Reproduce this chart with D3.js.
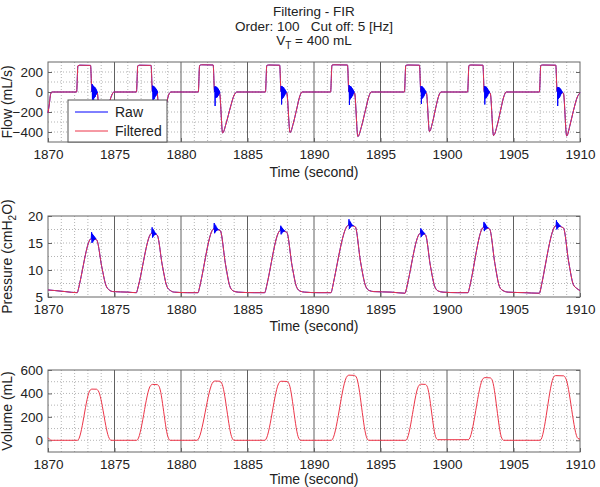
<!DOCTYPE html>
<html lang="en">
<head>
<meta charset="UTF-8">
<title>Filtering - FIR</title>
<script src="https://cdn.jsdelivr.net/npm/d3@7"></script>
<style>
  body { margin: 0; background: #fff; }
  svg { font-family: "Liberation Sans", Arial, Helvetica, sans-serif; }
  path.raw { stroke: #0000ff; stroke-width: 1px; fill: none; }
  path.filtered { stroke: #ec3548; stroke-width: 1px; fill: none; }
  line.minor { stroke: #b4b4b4; stroke-dasharray: 1,2; }
  line.major { stroke: #606060; }
  .axis text { font-size: 13.5px; fill: #222; }
  .axis line { stroke: #666; }
</style>
</head>
<body>
<svg width="600" height="487"></svg>
<script>
// ---- data ----
const timeDomain = [1870, 1910];
const timeTicks = [1870, 1875, 1880, 1885, 1890, 1895, 1900, 1905, 1910];

const flowTicks = [-400, -200, 0, 200];
const pressureTicks = [5, 10, 15, 20];
const volumeTicks = [0, 200, 400, 600];

// filtered flow [time, mL/s]
const flowFiltered = [
  [1870.0,-210],[1870.1,-120],[1870.2,-20],[1870.3,0],
  [1872.15,0],[1872.25,262],[1872.4,268],[1873.2,266],[1873.3,5],[1873.7,-5],[1873.93,-400],[1874.2,-300],[1874.5,-160],[1874.8,-30],[1874.95,0],
  [1876.65,0],[1876.75,262],[1876.9,268],[1877.75,266],[1877.85,5],[1878.2,-5],[1878.42,-390],[1878.65,-280],[1878.9,-120],[1879.1,-20],[1879.25,0],
  [1881.3,0],[1881.4,265],[1881.55,272],[1882.42,270],[1882.52,5],[1882.9,-10],[1883.13,-410],[1883.4,-310],[1883.7,-160],[1884.0,-30],[1884.2,0],
  [1886.35,0],[1886.45,265],[1886.6,270],[1887.42,268],[1887.52,5],[1887.95,-10],[1888.2,-405],[1888.45,-310],[1888.7,-170],[1888.95,-35],[1889.1,0],
  [1891.25,0],[1891.35,268],[1891.5,272],[1892.52,270],[1892.62,5],[1893.05,-10],[1893.3,-445],[1893.58,-340],[1893.88,-175],[1894.15,-35],[1894.3,0],
  [1896.8,0],[1896.9,265],[1897.05,270],[1897.93,268],[1898.03,5],[1898.45,-10],[1898.68,-395],[1898.92,-300],[1899.15,-160],[1899.4,-30],[1899.55,0],
  [1901.55,0],[1901.65,265],[1901.8,270],[1902.7,268],[1902.8,5],[1903.25,-10],[1903.5,-435],[1903.78,-330],[1904.05,-170],[1904.3,-35],[1904.45,0],
  [1906.95,0],[1907.05,265],[1907.2,270],[1908.18,268],[1908.28,5],[1908.75,-10],[1909.0,-440],[1909.25,-330],[1909.5,-190],[1909.8,-50],[1910.0,-8]
];

// raw flow oscillation bursts after each inspiration (samples every burstStep s)
const burstStep = 0.022;
const flowBurstStart = [1873.3, 1877.85, 1882.52, 1887.52, 1892.62, 1898.03, 1902.8, 1908.28];
const flowBurstValues = [
  [0,80,-120,70,-100,60,-80,55,-60,50,-50,45,-45,35,-30,25,-20,12,-8,0],
  [0,65,-110,60,-90,55,-70,50,-55,45,-45,40,-40,30,-25,20,-15,10,-5,0],
  [0,55,-140,55,-60,55,-55,50,-55,45,-50,40,-40,30,-30,20,-18,10,-5,0],
  [0,60,-125,55,-70,55,-60,50,-55,45,-45,35,-35,28,-25,18,-12,8,-4,0],
  [0,70,-130,60,-75,60,-65,55,-60,50,-50,40,-40,30,-28,20,-15,10,-5,0],
  [0,60,-120,55,-70,55,-60,50,-55,40,-45,35,-35,25,-22,16,-12,8,-4,0],
  [0,60,-125,55,-65,55,-60,50,-55,42,-45,35,-35,25,-22,16,-12,8,-4,0],
  [0,45,-140,50,-70,50,-60,45,-55,40,-45,32,-32,25,-20,15,-10,6,-3,0]
];

// raw pressure bursts at each peak
const pressureStep = 0.03;
const pressureBurstStart = [1873.25, 1877.8, 1882.47, 1887.47, 1892.6, 1898.0, 1902.75, 1908.2];
const pressureBurstValues = [
  [15.8,17.0,15.0,16.7,15.2,16.5,15.4,16.3,15.6,16.1,15.7,15.9,15.75],
  [16.8,17.9,16.0,17.6,16.2,17.4,16.4,17.1,16.5,16.9,16.6,16.75,16.7],
  [17.6,18.7,16.8,18.4,17.0,18.2,17.2,17.9,17.3,17.7,17.4,17.55,17.5],
  [17.3,18.2,16.6,18.0,16.8,17.8,17.0,17.6,17.1,17.4,17.15,17.3,17.25],
  [18.3,19.4,17.6,19.1,17.8,18.9,18.0,18.6,18.1,18.4,18.15,18.3,18.25],
  [16.8,17.7,16.1,17.5,16.3,17.3,16.5,17.1,16.6,16.9,16.65,16.8,16.75],
  [17.9,18.9,17.2,18.7,17.4,18.5,17.6,18.2,17.7,18.0,17.75,17.9,17.85],
  [18.2,19.2,17.5,18.9,17.7,18.7,17.9,18.5,18.0,18.3,18.05,18.2,18.15]
];

// filtered pressure [time, cmH2O]
const pressureFiltered = [
  [1870.0,6.3],[1870.5,6.2],[1871.3,6.0],[1872.2,5.8],
  [1872.28,6.4],[1872.38,7.5],[1873.25,15.8],[1873.65,15.6],[1874.05,10.5],[1874.35,7.2],[1874.6,6.3],[1874.9,6.0],[1876.0,5.9],[1876.65,5.8],
  [1876.73,6.4],[1876.83,7.4],[1877.8,16.8],[1878.2,16.5],[1878.6,10.8],[1878.95,6.9],[1879.2,6.2],[1879.5,5.9],[1880.5,5.8],[1881.28,5.8],
  [1881.36,6.4],[1881.46,7.5],[1882.47,17.6],[1882.95,17.3],[1883.35,11.0],[1883.7,6.8],[1883.95,6.1],[1884.3,5.9],[1885.5,5.8],[1886.3,5.8],
  [1886.38,6.4],[1886.48,7.5],[1887.47,17.3],[1887.95,17.0],[1888.35,10.8],[1888.7,6.8],[1888.95,6.1],[1889.3,5.9],[1890.3,5.8],[1891.28,5.8],
  [1891.36,6.4],[1891.46,7.6],[1892.6,18.3],[1893.1,18.0],[1893.5,11.5],[1893.9,6.9],[1894.15,6.2],[1894.5,6.0],[1895.8,5.9],[1896.85,5.7],
  [1896.93,6.3],[1897.03,7.4],[1898.0,16.8],[1898.38,16.5],[1898.75,10.8],[1899.1,6.8],[1899.35,6.1],[1899.7,5.9],[1900.8,5.8],[1901.58,5.8],
  [1901.66,6.4],[1901.76,7.5],[1902.75,17.9],[1903.2,17.6],[1903.6,11.2],[1903.95,6.9],[1904.2,6.2],[1904.6,5.9],[1905.8,5.8],[1906.95,5.7],
  [1907.03,6.3],[1907.13,7.5],[1908.2,18.2],[1908.75,17.8],[1909.15,11.5],[1909.5,7.3],[1909.75,6.6],[1910.0,6.2]
];

// volume [time, mL]
const volumeFiltered = [
  [1870.0,22],[1870.12,8],[1870.25,0],
  [1872.22,0],[1873.18,430],[1873.3,437],[1873.65,436],[1873.78,422],[1874.6,18],[1874.72,0],
  [1876.67,0],[1877.72,468],[1877.85,477],[1878.22,475],[1878.35,460],[1879.05,20],[1879.17,0],
  [1881.2,0],[1882.42,498],[1882.55,506],[1882.92,504],[1883.05,490],[1883.85,18],[1883.97,0],
  [1886.3,0],[1887.4,495],[1887.52,504],[1887.98,502],[1888.1,488],[1888.85,18],[1888.97,0],
  [1891.3,0],[1892.5,548],[1892.62,556],[1893.05,554],[1893.18,540],[1893.98,18],[1894.1,0],
  [1896.9,0],[1897.9,470],[1898.02,479],[1898.38,477],[1898.5,462],[1899.18,20],[1899.3,5],
  [1901.6,5],[1902.72,528],[1902.85,535],[1903.25,533],[1903.38,518],[1904.12,18],[1904.25,0],
  [1907.0,0],[1908.05,545],[1908.17,552],[1908.78,550],[1908.9,535],[1909.85,15],[1910.0,10]
];

// ---- drawing ----
const svg = d3.select('svg');
const x = d3.scaleLinear().domain(timeDomain).range([48, 580]);

const panels = [
  {top: 62,  bottom: 142, domain: [-500, 300], ticks: flowTicks, gridStep: 100, labelGap: 34.5},
  {top: 216, bottom: 297, domain: [5, 20], ticks: pressureTicks, gridStep: 2.5, labelGap: 34},
  {top: 370, bottom: 452, domain: [-100, 600], ticks: volumeTicks, gridStep: 100, labelGap: 32}
];

function drawPanel(p) {
  const y = d3.scaleLinear().domain(p.domain).range([p.bottom, p.top]);
  const g = svg.append('g');

  // horizontal dotted grid
  const hg = d3.range(p.domain[0] + p.gridStep, p.domain[1] - 1e-9, p.gridStep);
  g.selectAll('line.h').data(hg).join('line').attr('class', 'minor')
    .attr('x1', x.range()[0]).attr('x2', x.range()[1])
    .attr('y1', d => y(d)).attr('y2', d => y(d));

  // vertical grid: dotted every second, solid every 5 s
  const vg = d3.range(timeDomain[0] + 1, timeDomain[1], 1);
  g.selectAll('line.v').data(vg).join('line')
    .attr('class', d => d % 5 === 0 ? 'major' : 'minor')
    .attr('x1', d => x(d)).attr('x2', d => x(d))
    .attr('y1', p.top).attr('y2', p.bottom);

  // axes with inward ticks
  g.append('g').attr('class', 'axis')
    .attr('transform', `translate(${x.range()[0]},0)`)
    .call(d3.axisLeft(y).tickValues(p.ticks).tickSize(-4).tickPadding(5));
  g.append('g').attr('class', 'axis')
    .attr('transform', `translate(${x.range()[1]},0)`)
    .call(d3.axisRight(y).tickValues(p.ticks).tickSize(-4).tickFormat(''));
  g.append('g').attr('class', 'axis')
    .attr('transform', `translate(0,${p.bottom})`)
    .call(d3.axisBottom(x).tickValues(timeTicks).tickSize(-4).tickPadding(7).tickFormat(d3.format('d')));
  g.selectAll('.axis path.domain').remove();

  g.append('rect')
    .attr('x', x.range()[0]).attr('y', p.top)
    .attr('width', x.range()[1] - x.range()[0]).attr('height', p.bottom - p.top)
    .attr('fill', 'none').attr('stroke', '#666');

  g.append('text')
    .attr('x', (x.range()[0] + x.range()[1]) / 2).attr('y', p.bottom + p.labelGap)
    .attr('text-anchor', 'middle').attr('font-size', '14px').attr('fill', '#222')
    .text('Time (second)');
  return {g, y};
}

const lineOf = y => d3.line().x(d => x(d[0])).y(d => y(d[1])).curve(d3.curveMonotoneX);
const lineLin = y => d3.line().x(d => x(d[0])).y(d => y(d[1]));

function bursts(starts, values, step) {
  return starts.map((t0, i) => values[i].map((v, k) => [t0 + k * step, v]));
}

// flow
const flow = drawPanel(panels[0]);
const flowLine = lineOf(flow.y);
flow.g.append('path').attr('class', 'raw').attr('d', flowLine(flowFiltered));
flow.g.append('path').attr('class', 'filtered').attr('d', flowLine(flowFiltered));
flow.g.selectAll('path.burst').data(bursts(flowBurstStart, flowBurstValues, burstStep)).join('path')
  .attr('class', 'raw burst').attr('d', lineLin(flow.y));

// pressure
const pres = drawPanel(panels[1]);
const presLine = lineOf(pres.y);
pres.g.append('path').attr('class', 'raw').attr('d', presLine(pressureFiltered));
pres.g.append('path').attr('class', 'filtered').attr('d', presLine(pressureFiltered));
pres.g.selectAll('path.burst').data(bursts(pressureBurstStart, pressureBurstValues, pressureStep)).join('path')
  .attr('class', 'raw burst').attr('d', lineLin(pres.y));

// volume
const vol = drawPanel(panels[2]);
vol.g.append('path').attr('class', 'filtered').attr('d', lineOf(vol.y)(volumeFiltered));

// y labels
function yLabel(p, parts) {
  const t = svg.append('text')
    .attr('transform', `translate(12,${(p.top + p.bottom) / 2}) rotate(-90)`)
    .attr('text-anchor', 'middle').attr('font-size', '14px').attr('fill', '#222');
  parts.forEach(([s, sub], i) => {
    const ts = t.append('tspan').text(s);
    if (sub) ts.attr('font-size', '10px').attr('dy', 4);
    else if (i > 0) ts.attr('dy', -4);
  });
}
yLabel(panels[0], [['Flow (mL/s)']]);
yLabel(panels[1], [['Pressure (cmH'], ['2', true], ['O)']]);
yLabel(panels[2], [['Volume (mL)']]);

// title
const cx = (x.range()[0] + x.range()[1]) / 2;
const title = svg.append('g').attr('font-size', '13.5px').attr('fill', '#222').attr('text-anchor', 'middle');
title.append('text').attr('x', cx).attr('y', 16).text('Filtering - FIR');
title.append('text').attr('x', cx).attr('y', 31).attr('xml:space', 'preserve').text('Order: 100   Cut off: 5 [Hz]');
const vt = title.append('text').attr('x', cx).attr('y', 45);
vt.append('tspan').text('V');
vt.append('tspan').attr('font-size', '10px').attr('dy', 4).text('T');
vt.append('tspan').attr('dy', -4).text(' = 400 mL');

// legend
const lg = svg.append('g').attr('transform', 'translate(68,100)');
lg.append('rect').attr('width', 99).attr('height', 42).attr('fill', '#fff').attr('stroke', '#555');
[['Raw', '#0000ff', 12], ['Filtered', '#ec3548', 31]].forEach(([name, col, yy]) => {
  lg.append('line').attr('x1', 7).attr('x2', 40).attr('y1', yy).attr('y2', yy).attr('stroke', col);
  lg.append('text').attr('x', 47).attr('y', yy + 5).attr('font-size', '14px').attr('fill', '#222').text(name);
});
</script>
</body>
</html>
